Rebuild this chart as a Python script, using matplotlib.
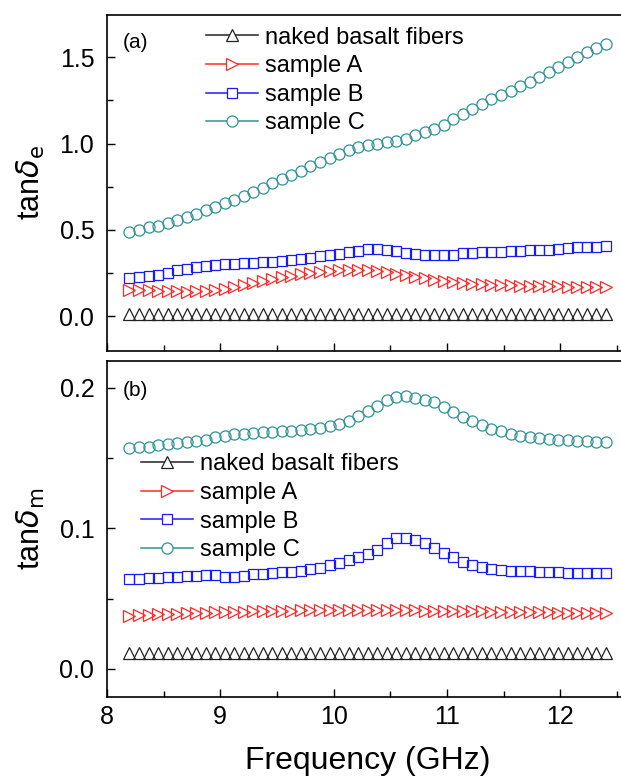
import numpy as np
import matplotlib
matplotlib.use("Agg")
import matplotlib.pyplot as plt
from matplotlib.lines import Line2D
from matplotlib.ticker import MultipleLocator

plt.rcParams['font.family'] = ['Liberation Sans', 'DejaVu Sans']
plt.rcParams['mathtext.fontset'] = 'dejavusans'

# frequency sweep (GHz)
freq = [8.2, 8.284, 8.368, 8.452, 8.536, 8.62, 8.704, 8.788, 8.872, 8.956,
        9.04, 9.124, 9.208, 9.292, 9.376, 9.46, 9.544, 9.628, 9.712, 9.796,
        9.88, 9.964, 10.048, 10.132, 10.216, 10.3, 10.384, 10.468, 10.552, 10.636,
        10.72, 10.804, 10.888, 10.972, 11.056, 11.14, 11.224, 11.308, 11.392, 11.476,
        11.56, 11.644, 11.728, 11.812, 11.896, 11.98, 12.064, 12.148, 12.232, 12.316,
        12.4]

# (a) dielectric loss tangent
tde_naked = [0.015, 0.015, 0.015, 0.015, 0.015, 0.015, 0.015, 0.015, 0.015, 0.015,
             0.015, 0.015, 0.015, 0.015, 0.015, 0.015, 0.015, 0.015, 0.015, 0.015,
             0.015, 0.015, 0.015, 0.015, 0.015, 0.015, 0.015, 0.015, 0.015, 0.015,
             0.015, 0.015, 0.015, 0.015, 0.015, 0.015, 0.015, 0.015, 0.015, 0.015,
             0.015, 0.015, 0.015, 0.015, 0.015, 0.015, 0.015, 0.015, 0.015, 0.015,
             0.015]
tde_A = [0.155, 0.153, 0.150, 0.148, 0.146, 0.144, 0.143, 0.144, 0.147, 0.152,
         0.160, 0.170, 0.180, 0.192, 0.204, 0.215, 0.225, 0.234, 0.243, 0.250,
         0.257, 0.262, 0.267, 0.270, 0.270, 0.267, 0.263, 0.255, 0.247, 0.238,
         0.228, 0.220, 0.212, 0.205, 0.199, 0.193, 0.189, 0.186, 0.183, 0.181,
         0.179, 0.177, 0.176, 0.175, 0.174, 0.173, 0.172, 0.172, 0.171, 0.171,
         0.170]
tde_B = [0.224, 0.228, 0.234, 0.242, 0.251, 0.267, 0.276, 0.286, 0.294, 0.297,
         0.301, 0.303, 0.307, 0.309, 0.313, 0.317, 0.320, 0.324, 0.330, 0.338,
         0.348, 0.353, 0.363, 0.372, 0.380, 0.388, 0.388, 0.386, 0.378, 0.369,
         0.361, 0.357, 0.353, 0.353, 0.357, 0.365, 0.369, 0.371, 0.373, 0.375,
         0.377, 0.378, 0.382, 0.384, 0.386, 0.392, 0.395, 0.400, 0.403, 0.403,
         0.407]
tde_C = [0.490, 0.502, 0.514, 0.525, 0.541, 0.556, 0.575, 0.595, 0.614, 0.633,
         0.653, 0.672, 0.695, 0.718, 0.740, 0.769, 0.792, 0.817, 0.842, 0.871,
         0.894, 0.919, 0.942, 0.962, 0.977, 0.991, 1.000, 1.006, 1.016, 1.027,
         1.047, 1.064, 1.085, 1.110, 1.141, 1.170, 1.199, 1.226, 1.255, 1.280,
         1.305, 1.333, 1.358, 1.387, 1.416, 1.444, 1.473, 1.502, 1.530, 1.551,
         1.574]

# (b) magnetic loss tangent
tdm_naked = [0.011, 0.011, 0.011, 0.011, 0.011, 0.011, 0.011, 0.011, 0.011, 0.011,
             0.011, 0.011, 0.011, 0.011, 0.011, 0.011, 0.011, 0.011, 0.011, 0.011,
             0.011, 0.011, 0.011, 0.011, 0.011, 0.011, 0.011, 0.011, 0.011, 0.011,
             0.011, 0.011, 0.011, 0.011, 0.011, 0.011, 0.011, 0.011, 0.011, 0.011,
             0.011, 0.011, 0.011, 0.011, 0.011, 0.011, 0.011, 0.011, 0.011, 0.011,
             0.011]
tdm_A = [0.0380, 0.0382, 0.0385, 0.0388, 0.0390, 0.0393, 0.0396, 0.0398, 0.0400, 0.0402,
         0.0404, 0.0406, 0.0408, 0.0410, 0.0411, 0.0413, 0.0414, 0.0415, 0.0416, 0.0417,
         0.0418, 0.0419, 0.0420, 0.0420, 0.0420, 0.0420, 0.0420, 0.0419, 0.0418, 0.0417,
         0.0416, 0.0415, 0.0414, 0.0413, 0.0412, 0.0411, 0.0410, 0.0409, 0.0408, 0.0407,
         0.0406, 0.0405, 0.0404, 0.0403, 0.0402, 0.0401, 0.0400, 0.0400, 0.0399, 0.0399,
         0.0398]
tdm_B = [0.0638, 0.0643, 0.0645, 0.0650, 0.0655, 0.0657, 0.0660, 0.0662, 0.0667, 0.0667,
         0.0657, 0.0657, 0.0660, 0.0674, 0.0678, 0.0681, 0.0686, 0.0693, 0.0700, 0.0710,
         0.0721, 0.0738, 0.0757, 0.0776, 0.0799, 0.0818, 0.0847, 0.0895, 0.0930, 0.0930,
         0.0918, 0.0895, 0.0859, 0.0823, 0.0795, 0.0764, 0.0740, 0.0724, 0.0712, 0.0705,
         0.0700, 0.0698, 0.0695, 0.0693, 0.0690, 0.0688, 0.0683, 0.0681, 0.0679, 0.0679,
         0.0679]
tdm_C = [0.1570, 0.1575, 0.1580, 0.1590, 0.1597, 0.1606, 0.1613, 0.1620, 0.1630, 0.1650,
         0.1658, 0.1668, 0.1673, 0.1677, 0.1682, 0.1684, 0.1689, 0.1694, 0.1701, 0.1708,
         0.1715, 0.1727, 0.1742, 0.1765, 0.1796, 0.1832, 0.1872, 0.1910, 0.1934, 0.1943,
         0.1927, 0.1915, 0.1895, 0.1863, 0.1825, 0.1789, 0.1760, 0.1732, 0.1708, 0.1689,
         0.1673, 0.1658, 0.1649, 0.1642, 0.1635, 0.1630, 0.1625, 0.1620, 0.1618, 0.1616,
         0.1616]

labels = ['naked basalt fibers', 'sample A', 'sample B', 'sample C']
colors = ['#222222', '#ff2a2a', '#1a1aff', '#2e9494']
markers = ['^', '>', 's', 'o']
msizes = [8.5, 8.5, 7.3, 8]

fig = plt.figure(figsize=(6.21, 7.78), dpi=100)
ax1 = fig.add_axes([0.172, 0.549, 0.84, 0.432])
ax2 = fig.add_axes([0.172, 0.104, 0.84, 0.432])

top_series = [tde_naked, tde_A, tde_B, tde_C]
bot_series = [tdm_naked, tdm_A, tdm_B, tdm_C]

for ax, series in [(ax1, top_series), (ax2, bot_series)]:
    for y, c, m, ms in zip(series, colors, markers, msizes):
        ax.plot(freq, y, linestyle='none', marker=m, markersize=ms,
                markerfacecolor='none', markeredgecolor=c, markeredgewidth=0.9)

handles = [Line2D([], [], color=c, lw=1.1, marker=m, markersize=ms,
                  markerfacecolor='white', markeredgecolor=c, markeredgewidth=0.9)
           for c, m, ms in zip(colors, markers, msizes)]

leg_kw = dict(loc='upper left', frameon=False, fontsize=17, handlelength=2.2,
              handletextpad=0.3, labelspacing=0.28, borderpad=0, borderaxespad=0)
ax1.legend(handles, labels, bbox_to_anchor=(0.19, 0.965), **leg_kw)
ax2.legend(handles, labels, bbox_to_anchor=(0.065, 0.725), **leg_kw)

ax1.set_xlim(8, 12.6)
ax2.set_xlim(8, 12.6)
ax1.set_ylim(-0.2, 1.745)
ax2.set_ylim(-0.02, 0.219)

ax1.yaxis.set_major_locator(MultipleLocator(0.5))
ax1.yaxis.set_minor_locator(MultipleLocator(0.25))
ax2.yaxis.set_major_locator(MultipleLocator(0.1))
ax2.yaxis.set_minor_locator(MultipleLocator(0.05))
ax1.yaxis.set_major_formatter(plt.FormatStrFormatter('%.1f'))
ax2.yaxis.set_major_formatter(plt.FormatStrFormatter('%.1f'))

for ax in (ax1, ax2):
    ax.xaxis.set_major_locator(MultipleLocator(1))
    ax.xaxis.set_minor_locator(MultipleLocator(0.5))
    ax.tick_params(which='both', direction='in', top=False, right=False,
                   labelsize=18, width=1.0)
    ax.tick_params(which='major', length=6)
    ax.tick_params(axis='x', which='major', pad=6)
    ax.tick_params(axis='y', which='major', pad=9)
    ax.tick_params(which='minor', length=4)
    for sp in ax.spines.values():
        sp.set_linewidth(1.2)

ax1.tick_params(labelbottom=False)

ax1.set_ylabel(r'tan$\delta_{\mathrm{e}}$', fontsize=22)
ax2.set_ylabel(r'tan$\delta_{\mathrm{m}}$', fontsize=22)
ax1.yaxis.set_label_coords(-0.115, 0.5)
ax2.yaxis.set_label_coords(-0.115, 0.5)
ax2.set_xlabel('Frequency (GHz)', fontsize=23, labelpad=12)

ax1.text(0.03, 0.945, '(a)', transform=ax1.transAxes, fontsize=15, va='top')
ax2.text(0.03, 0.94, '(b)', transform=ax2.transAxes, fontsize=15, va='top')

fig.savefig('out.png', dpi=100)
